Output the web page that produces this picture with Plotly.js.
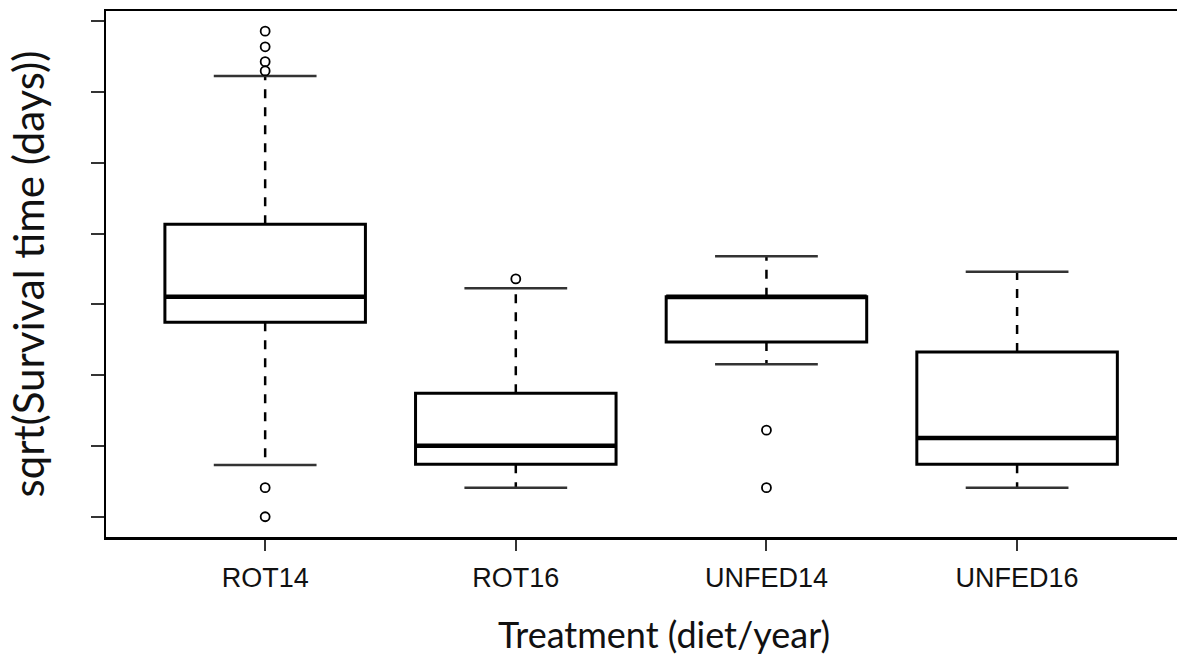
<!DOCTYPE html>
<html>
<head>
<meta charset="utf-8">
<script src="https://cdn.plot.ly/plotly-3.0.1.min.js"></script>
<style>html,body{margin:0;padding:0;background:#fff;}#chart{width:1177px;height:657px;}</style>
</head>
<body>
<div id="chart"></div>
<script>
// Data (y in sqrt(days) units, arbitrary since tick labels are illegible)
const categories = ['ROT14', 'ROT16', 'UNFED14', 'UNFED16'];
const q1 = [3.75, 1.75, 3.47, 1.75];
const median = [4.11, 2.01, 4.11, 2.12];
const q3 = [5.13, 2.75, 4.11, 3.33];
const lowerWhisker = [1.74, 1.42, 3.16, 1.42];
const upperWhisker = [7.22, 4.23, 4.68, 4.46];
const outlierGroup = [0, 0, 0, 0, 0, 0, 1, 2, 2];
const outlierValue = [7.85, 7.63, 7.42, 7.29, 1.42, 1.01, 4.36, 2.23, 1.42];
const yTicks = [1, 2, 3, 4, 5, 6, 7, 8];

const pos = categories.map((c, i) => i);
const boxW = 0.8, capHalf = 0.205;

// whiskers (dashed) and caps (solid)
const wx = [], wy = [], cx = [], cy = [], mx = [], my = [];
pos.forEach(i => {
  wx.push(i, i, null, i, i, null);
  wy.push(q3[i], upperWhisker[i], null, q1[i], lowerWhisker[i], null);
  cx.push(i - capHalf, i + capHalf, null, i - capHalf, i + capHalf, null);
  cy.push(upperWhisker[i], upperWhisker[i], null, lowerWhisker[i], lowerWhisker[i], null);
  mx.push(i - boxW / 2, i + boxW / 2, null);
  my.push(median[i], median[i], null);
});

const traces = [
  {type: 'scatter', mode: 'lines', x: wx, y: wy, line: {color: '#000', width: 2.5, dash: 'dash'}, hoverinfo: 'skip', showlegend: false},
  {type: 'scatter', mode: 'lines', x: cx, y: cy, line: {color: '#333', width: 2.5}, hoverinfo: 'skip', showlegend: false},
  {type: 'box', x: pos, q1: q1, median: median, q3: q3, lowerfence: q1, upperfence: q3,
   width: boxW, whiskerwidth: 0, fillcolor: 'rgba(255,255,255,0)', line: {color: '#000', width: 3}, showlegend: false},
  {type: 'scatter', mode: 'lines', x: mx, y: my, line: {color: '#000', width: 4.5}, hoverinfo: 'skip', showlegend: false},
  {type: 'scatter', mode: 'markers', x: outlierGroup, y: outlierValue,
   marker: {symbol: 'circle-open', size: 9, color: '#000', line: {width: 1.8}}, showlegend: false}
];

const layout = {
  width: 1177, height: 657,
  margin: {l: 106, r: 0, t: 11, b: 120},
  paper_bgcolor: '#fff', plot_bgcolor: '#fff',
  showlegend: false,
  xaxis: {
    range: [-0.635, 3.638], tickvals: pos, ticktext: categories,
    ticks: 'outside', ticklen: 11, tickwidth: 2, tickcolor: '#333',
    ticklabelstandoff: 4,
    showline: true, linecolor: '#000', linewidth: 2.5, mirror: true,
    showgrid: false, zeroline: false,
    tickfont: {family: 'Liberation Sans, Arial, sans-serif', size: 27, color: '#111'}
  },
  yaxis: {
    range: [0.725, 8.134], tickvals: yTicks, showticklabels: false,
    ticks: 'outside', ticklen: 13, tickwidth: 2, tickcolor: '#333',
    showline: true, linecolor: '#000', linewidth: 2.5, mirror: true,
    showgrid: false, zeroline: false,
    title: {text: 'sqrt(Survival time (days))', standoff: 33,
            font: {family: 'Lato, sans-serif', size: 42, color: '#111'}}
  },
  annotations: [{
    text: 'Treatment (diet/year)', xref: 'paper', yref: 'paper',
    x: 0.521, y: -0.184, xanchor: 'center', yanchor: 'middle', showarrow: false,
    font: {family: 'Lato, sans-serif', size: 36, color: '#111'}
  }]
};

Plotly.newPlot('chart', traces, layout, {displayModeBar: false, staticPlot: true});
</script>
</body>
</html>
